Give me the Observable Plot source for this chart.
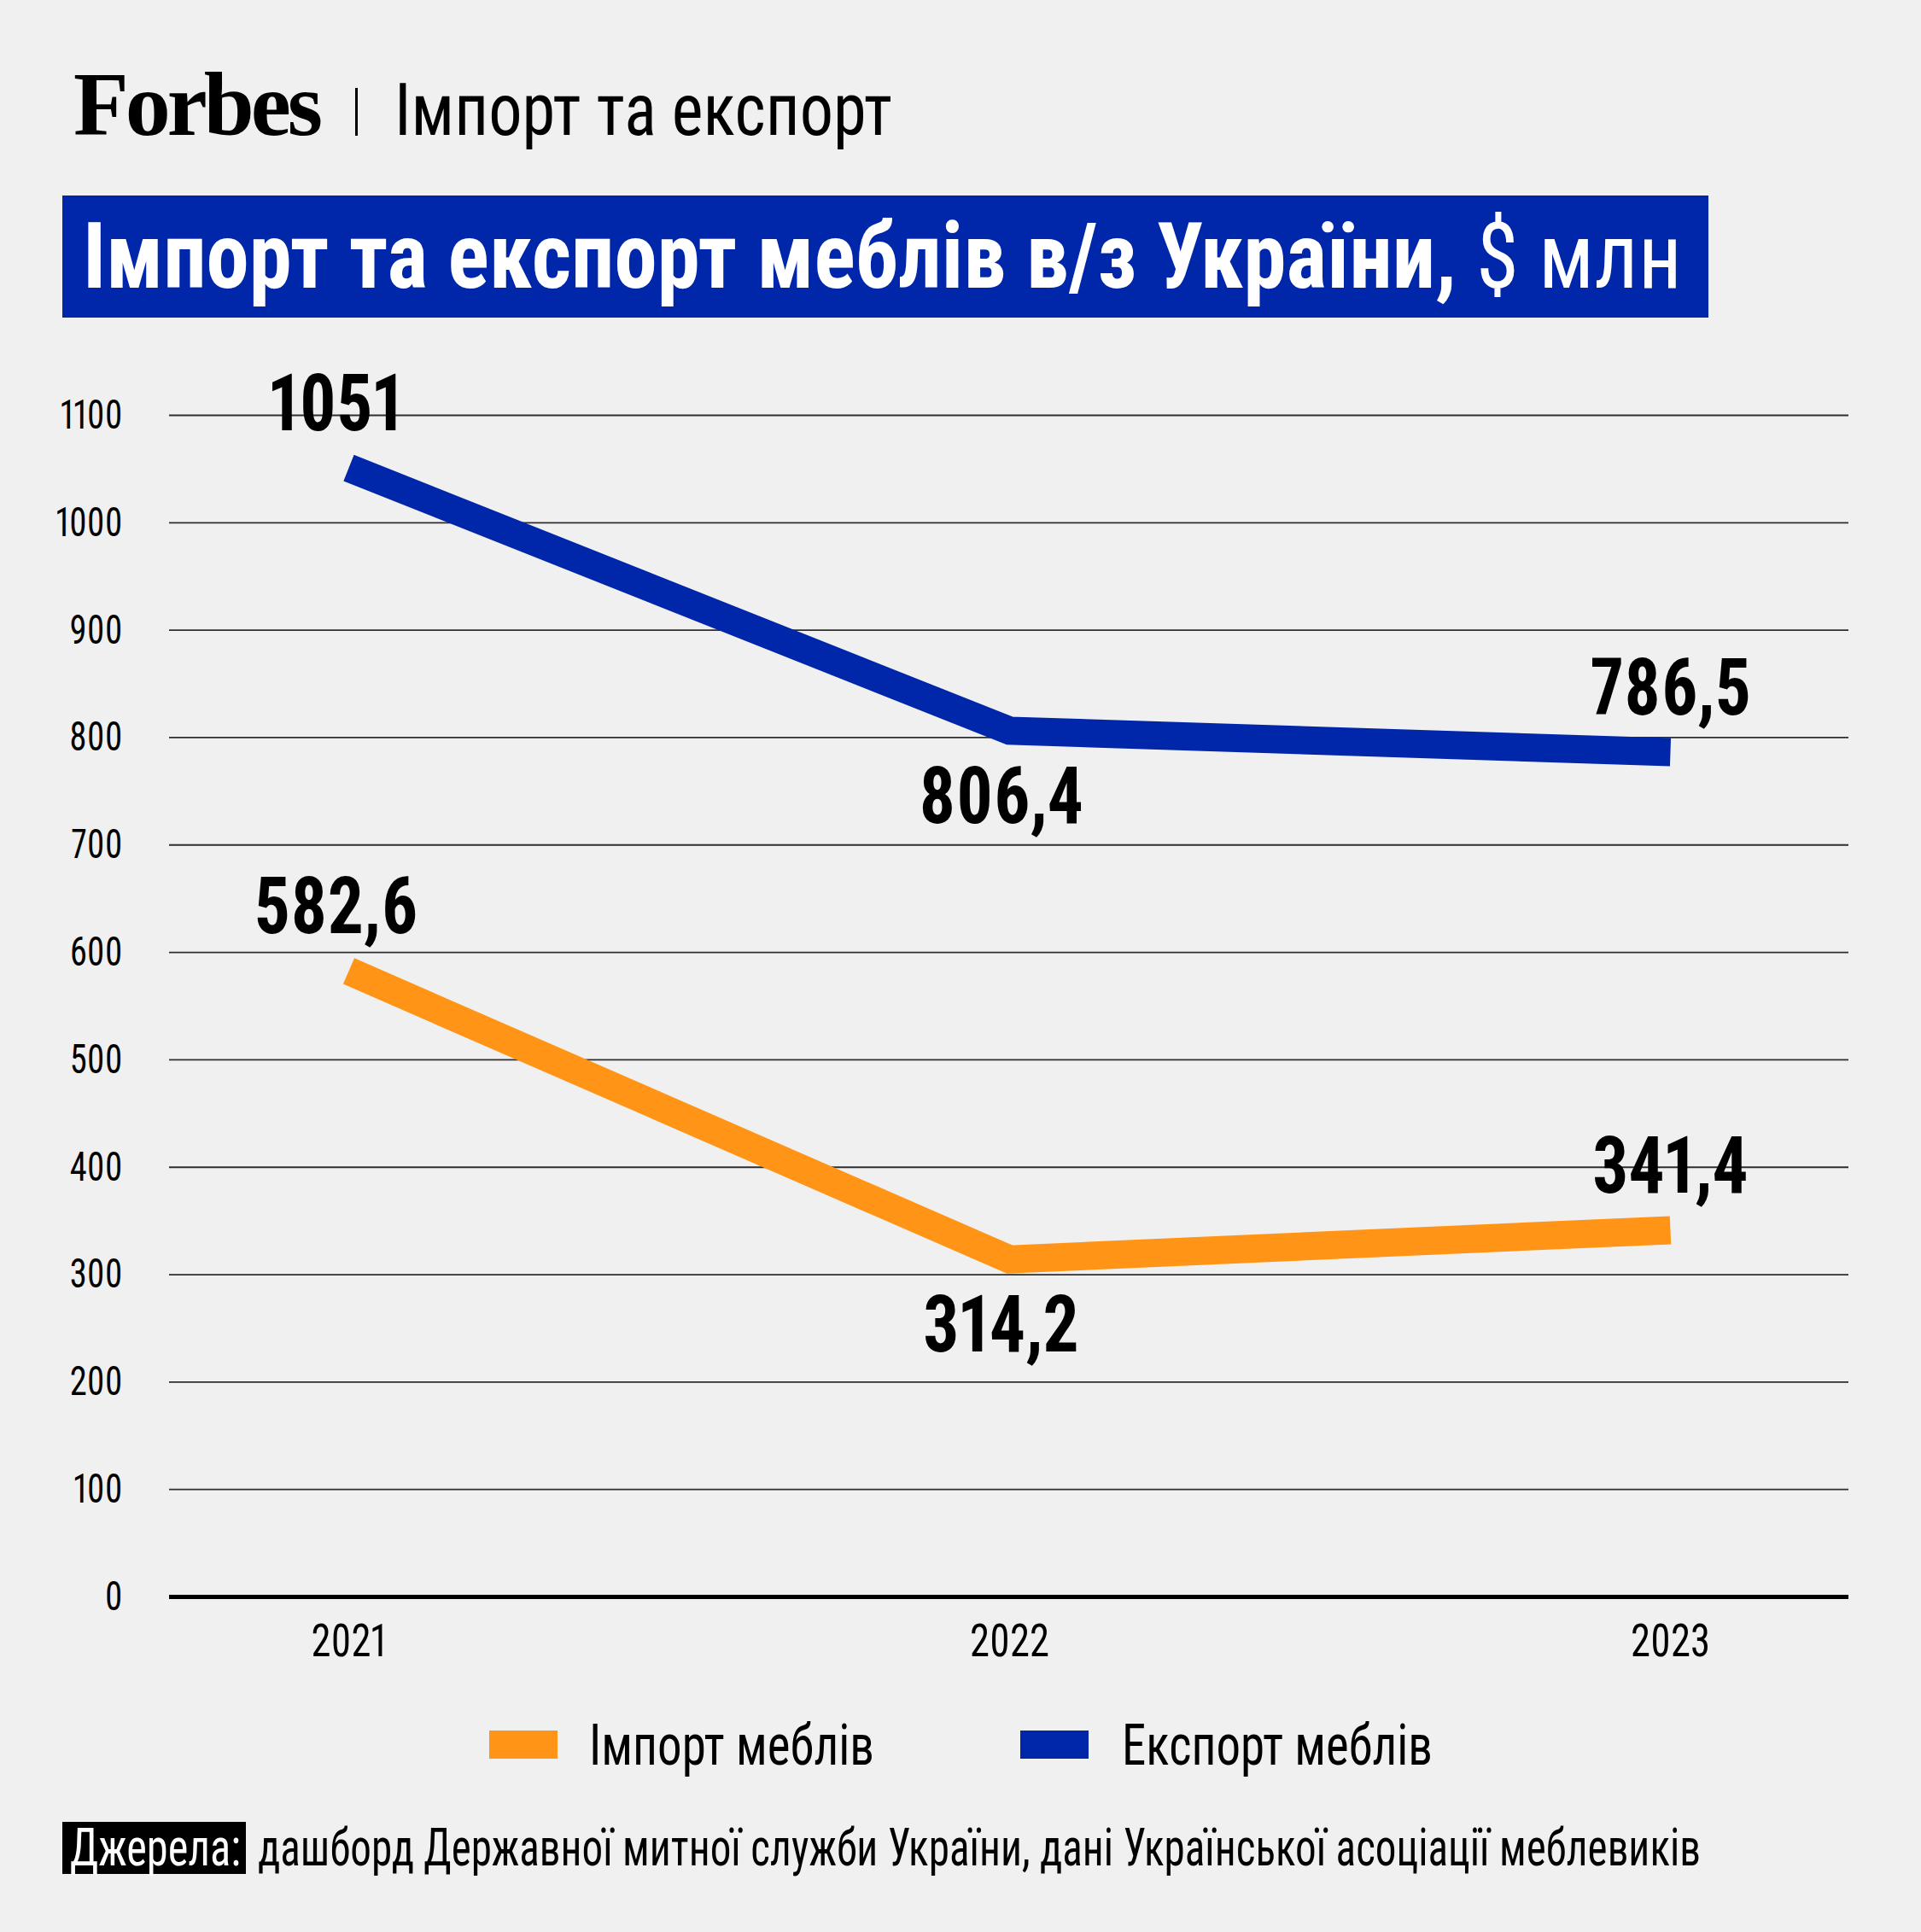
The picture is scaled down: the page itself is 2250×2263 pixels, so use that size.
<!DOCTYPE html>
<html>
<head>
<meta charset="utf-8">
<script src="https://cdn.jsdelivr.net/npm/d3@7"></script>
<script src="https://cdn.jsdelivr.net/npm/@observablehq/plot@0.6"></script>
<style>
  html, body { margin: 0; padding: 0; background: #f0f0f0; }
  body { width: 2250px; height: 2263px; position: relative; overflow: hidden; }
  .t { position: absolute; white-space: nowrap; line-height: 1; transform-origin: 0 0; color: #000; }
  .box { position: absolute; }
  #chart { position: absolute; left: 0; top: 400px; }
  #chart svg text { font-variant-numeric: proportional-nums; }
</style>
</head>
<body>
<div id="logo" class="t">Forbes</div>
<div id="sep" class="box"></div>
<div id="sub" class="t">Імпорт та експорт</div>
<div id="banner" class="box"></div>
<div id="title" class="t"><span id="titleMain">Імпорт та експорт меблів в/з України,</span><span id="titleUnit"> $ млн</span></div>
<div id="chart"></div>
<div id="legend"></div>
<div id="srcBox" class="box"></div>
<div id="srcLabel" class="t">Джерела:</div>
<div id="src" class="t">дашборд Державної митної служби України, дані Української асоціації меблевиків</div>
<script>
// ---------- DATA ----------
const years = ["2021", "2022", "2023"];
const seriesNames = ["Імпорт меблів", "Експорт меблів"];
const importValues = [582.6, 314.2, 341.4];
const exportValues = [1051, 806.4, 786.5];
const yTicks = [0, 100, 200, 300, 400, 500, 600, 700, 800, 900, 1000, 1100];
const seriesColors = ["#ff9417", "#0026aa"];

// ---------- FONTS ----------
function hasFont(name) {
  const c = document.createElement("canvas").getContext("2d");
  const s = "Імпорт меблів abcdefghij 0123456789";
  for (const base of ["monospace", "serif"]) {
    c.font = `72px ${base}`; const w0 = c.measureText(s).width;
    c.font = `72px "${name}", ${base}`; const w1 = c.measureText(s).width;
    if (Math.abs(w0 - w1) > 0.01) return true;
  }
  return false;
}
const condName = ["Roboto Condensed", "Roboto", "Liberation Sans Narrow", "DejaVu Sans Condensed", "Liberation Sans"].find(hasFont) || "sans-serif";
const COND = `"${condName}", "Liberation Sans", sans-serif`;
const SERIF = `"Liberation Serif", "DejaVu Serif", serif`;

// ---------- helpers ----------
function place(el, left, baseline, width) {
  el.style.left = left + "px"; el.style.top = "0px"; el.style.transform = "none";
  const m = document.createElement("span");
  m.style.cssText = "display:inline-block;width:0;height:0;vertical-align:baseline;";
  el.appendChild(m);
  const er = el.getBoundingClientRect(), mr = m.getBoundingClientRect();
  const off = mr.bottom - er.top;
  const w = er.width;
  el.removeChild(m);
  el.style.top = (baseline - off) + "px";
  if (width) el.style.transform = `scaleX(${width / w})`;
}
function boxAt(el, l, t, w, h, bg) {
  Object.assign(el.style, { left: l + "px", top: t + "px", width: w + "px", height: h + "px", background: bg });
}
const fmt = v => Number.isInteger(v) ? String(v) : v.toFixed(1).replace(".", ",");

// ---------- HEADER ----------
const logo = document.getElementById("logo");
Object.assign(logo.style, { fontFamily: SERIF, fontWeight: "700", fontSize: "106px", letterSpacing: "-4px" });
place(logo, 86, 158, 288);
boxAt(document.getElementById("sep"), 416, 103, 3, 56, "#000");
const sub = document.getElementById("sub");
Object.assign(sub.style, { fontFamily: COND, fontWeight: "400", fontSize: "85px" });
place(sub, 462, 158, 583);

boxAt(document.getElementById("banner"), 73, 229, 1928, 143, seriesColors[1]);
const title = document.getElementById("title");
Object.assign(title.style, { fontFamily: COND, fontSize: "108px", color: "#fff" });
document.getElementById("titleMain").style.fontWeight = "700";
document.getElementById("titleUnit").style.fontWeight = "400";
place(title, 97, 337, 1873);

// ---------- CHART ----------
const rows = [];
seriesNames.forEach((s, si) => {
  const vals = si === 0 ? importValues : exportValues;
  years.forEach((y, i) => rows.push({ series: s, year: y, value: vals[i], idx: i, label: fmt(vals[i]) }));
});
const lastIdx = years.length - 1;
const txt = { x: "year", y: "value", text: "label", fontSize: 92, fontWeight: "bold", fill: "#000", lineAnchor: "bottom", textAnchor: "middle" };

const plot = Plot.plot({
  width: 2250, height: 1580,
  marginTop: 86, marginBottom: 110, marginLeft: 198, marginRight: 85,
  style: { background: "transparent", fontFamily: COND, color: "#000", overflow: "visible" },
  x: { type: "point", domain: years, padding: 0.27, label: null },
  y: { domain: [0, 1100], label: null },
  color: { domain: seriesNames, range: seriesColors },
  marks: [
    Plot.ruleY(yTicks.filter(v => v > 0), { stroke: "#2e2e2e", strokeWidth: 1.8 }),
    Plot.axisY({ ticks: yTicks, tickFormat: d => String(d), tickSize: 0, tickPadding: 55, fontSize: 48, label: null, fill: "#000" }),
    Plot.axisX({ tickSize: 0, tickPadding: 31, fontSize: 54, label: null, fill: "#000" }),
    Plot.ruleY([0], { stroke: "#000", strokeWidth: 5 }),
    Plot.line(rows, { x: "year", y: "value", z: "series", stroke: "series", strokeWidth: 33, strokeLinejoin: "miter", strokeLinecap: "butt", strokeMiterlimit: 10 }),
    Plot.text(rows.filter(d => d.idx === 0), { ...txt, dx: -15, dy: -44 }),
    Plot.text(rows.filter(d => d.idx > 0 && d.idx < lastIdx), { ...txt, dx: -10, dy: 108 }),
    Plot.text(rows.filter(d => d.idx === lastIdx), { ...txt, dx: 0, dy: -44 })
  ]
});
document.getElementById("chart").appendChild(plot);

function condense(sel, refText, refWidth) {
  const ts = [...plot.querySelectorAll(sel)];
  if (!ts.length) return;
  const ref = ts.find(t => t.textContent.trim() === refText);
  if (!ref) return;
  const k = refWidth / ref.getComputedTextLength();
  ts.forEach(t => {
    t.setAttribute("textLength", (t.getComputedTextLength() * k).toFixed(2));
    t.setAttribute("lengthAdjust", "spacingAndGlyphs");
  });
}
condense('g[aria-label="text"] text', "806,4", 193);
condense('g[aria-label="y-axis tick label"] text', "1000", 78);
condense('g[aria-label="x-axis tick label"] text', "2022", 93);

// ---------- LEGEND ----------
const legend = document.getElementById("legend");
const legendPos = [{ sw: 573, tx: 690, w: 334 }, { sw: 1195, tx: 1314, w: 364 }];
seriesNames.forEach((s, i) => {
  const sw = document.createElement("div"); sw.className = "box";
  boxAt(sw, legendPos[i].sw, 2027, 80, 33, seriesColors[i]);
  legend.appendChild(sw);
  const t = document.createElement("div"); t.className = "t"; t.textContent = s;
  Object.assign(t.style, { fontFamily: COND, fontSize: "66px", fontWeight: "400" });
  legend.appendChild(t);
  place(t, legendPos[i].tx, 2067, legendPos[i].w);
});

// ---------- SOURCE ----------
boxAt(document.getElementById("srcBox"), 73, 2134, 215, 61, "#000");
const srcLabel = document.getElementById("srcLabel");
Object.assign(srcLabel.style, { fontFamily: COND, fontSize: "62px", color: "#fff" });
place(srcLabel, 82, 2185, 200);
const src = document.getElementById("src");
Object.assign(src.style, { fontFamily: COND, fontSize: "62px" });
place(src, 302, 2185, 1690);
</script>
</body>
</html>
